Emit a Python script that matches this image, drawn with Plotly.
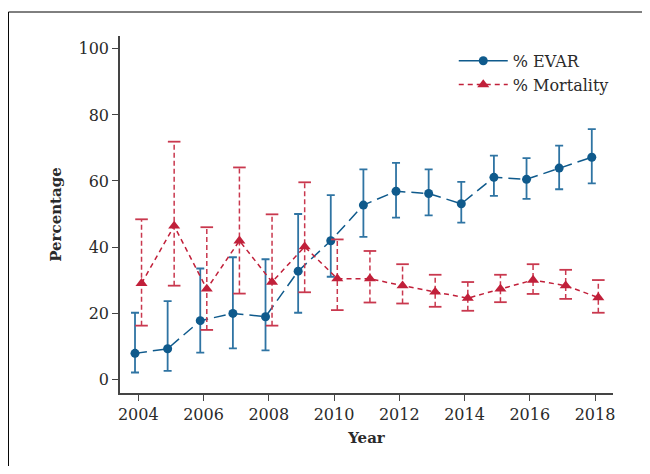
import plotly.graph_objects as go

years = list(range(2004, 2019))
evar = [7.8, 9.2, 17.7, 19.9, 18.9, 32.7, 41.9, 52.7, 56.9, 56.2, 53.1, 61.1, 60.5, 63.9, 67.2]
evar_hi = [20.1, 23.6, 33.5, 36.9, 36.3, 50.0, 55.7, 63.5, 65.5, 63.5, 59.7, 67.7, 66.9, 70.7, 75.7]
evar_lo = [2.0, 2.5, 8.0, 9.3, 8.7, 20.1, 31.0, 43.1, 48.9, 49.6, 47.4, 55.5, 54.6, 57.5, 59.3]
mort = [29.0, 46.4, 27.3, 41.9, 29.4, 40.1, 30.4, 30.4, 28.3, 26.4, 24.5, 27.3, 30.0, 28.3, 24.7]
mort_hi = [48.4, 71.9, 46.0, 64.1, 49.9, 59.6, 42.3, 38.8, 34.8, 31.6, 29.4, 31.6, 34.8, 33.1, 30.0]
mort_lo = [16.2, 28.3, 14.9, 25.9, 16.2, 26.3, 20.9, 23.2, 22.9, 21.9, 20.7, 23.3, 25.8, 24.3, 20.1]
x_ticks = [2004, 2006, 2008, 2010, 2012, 2014, 2016, 2018]
y_ticks = [0, 20, 40, 60, 80, 100]

BLUE = "#0F5A8C"
RED = "#C1203A"
FONT = "DejaVu Serif"
TXT = "#2a2a2a"
DODGE = 0.1  # series are dodged slightly around each year

x_evar = [y - DODGE for y in years]
x_mort = [y + DODGE for y in years]

fig = go.Figure()

# EVAR with native error bars
fig.add_trace(go.Scatter(
    x=x_evar, y=evar, mode="lines+markers", name="% EVAR", showlegend=False,
    line=dict(color=BLUE, width=1.5, dash="12px,6px"),
    marker=dict(symbol="circle", size=9, color=BLUE),
    error_y=dict(type="data", symmetric=False,
                 array=[h - v for h, v in zip(evar_hi, evar)],
                 arrayminus=[v - l for v, l in zip(evar, evar_lo)],
                 color="#2F74A3", thickness=1.8, width=4),
))

# Mortality dashed error bars
ex, ey = [], []
for x, lo, hi in zip(x_mort, mort_lo, mort_hi):
    ex += [x, x, None]
    ey += [lo, hi, None]
fig.add_trace(go.Scatter(
    x=ex, y=ey, mode="lines", showlegend=False, hoverinfo="skip",
    line=dict(color="#C9384E", width=1.5, dash="5px,3px"),
))
fig.add_trace(go.Scatter(
    x=x_mort + x_mort, y=mort_lo + mort_hi, mode="markers", showlegend=False, hoverinfo="skip",
    marker=dict(symbol="line-ew", size=9, line=dict(color="#C9384E", width=1.8)),
))

fig.add_trace(go.Scatter(
    x=x_mort, y=mort, mode="lines+markers", name="% Mortality", showlegend=False,
    line=dict(color=RED, width=1.5, dash="5px,4px"),
    marker=dict(symbol="triangle-up", size=10.5, color=RED),
))

# legend entries
fig.add_trace(go.Scatter(
    x=[None], y=[None], mode="lines+markers", name="% EVAR",
    line=dict(color=BLUE, width=1.5, dash="solid"),
    marker=dict(symbol="circle", size=9, color=BLUE),
))
fig.add_trace(go.Scatter(
    x=[None], y=[None], mode="lines+markers", name="% Mortality",
    line=dict(color=RED, width=1.5, dash="5px,4px"),
    marker=dict(symbol="triangle-up", size=10.5, color=RED),
))

frame = dict(color="black", width=1)
fig.update_layout(
    width=634, height=458,
    margin=dict(l=112, r=29, t=28, b=73),
    paper_bgcolor="white", plot_bgcolor="white",
    font=dict(family=FONT, size=16, color=TXT),
    showlegend=True,
    legend=dict(x=0.677, y=0.978, xanchor="left", yanchor="top", itemwidth=49,
                bgcolor="rgba(0,0,0,0)", font=dict(family=FONT, size=16, color=TXT),
                tracegroupgap=0),
    shapes=[
        dict(type="line", xref="paper", yref="paper", x0=-0.2262, x1=1.1, y0=1.0672, y1=1.0672,
             line=frame, layer="below"),
        dict(type="line", xref="paper", yref="paper", x0=-0.2262, x1=-0.2262, y0=1.0672, y1=-0.25,
             line=frame, layer="below"),
    ],
)
fig.update_xaxes(
    range=[2003.44, 2018.55], tickvals=x_ticks, ticktext=[str(t) for t in x_ticks],
    showgrid=False, zeroline=False, showline=True, linecolor="#444444", linewidth=1.5,
    ticks="outside", ticklen=6, tickcolor="#444444", tickwidth=1.2,
    title=dict(text="<b>Year</b>", font=dict(family=FONT, size=15, color=TXT), standoff=10),
)
fig.update_yaxes(
    range=[-4.2, 103.9], tickvals=y_ticks, ticktext=[str(t) for t in y_ticks],
    showgrid=False, zeroline=False, showline=True, linecolor="#444444", linewidth=1.5,
    ticks="outside", ticklen=6, tickcolor="#444444", tickwidth=1.2,
    title=dict(text="<b>Percentage</b>", font=dict(family=FONT, size=15, color=TXT), standoff=13),
)

fig.write_html("out.html")
